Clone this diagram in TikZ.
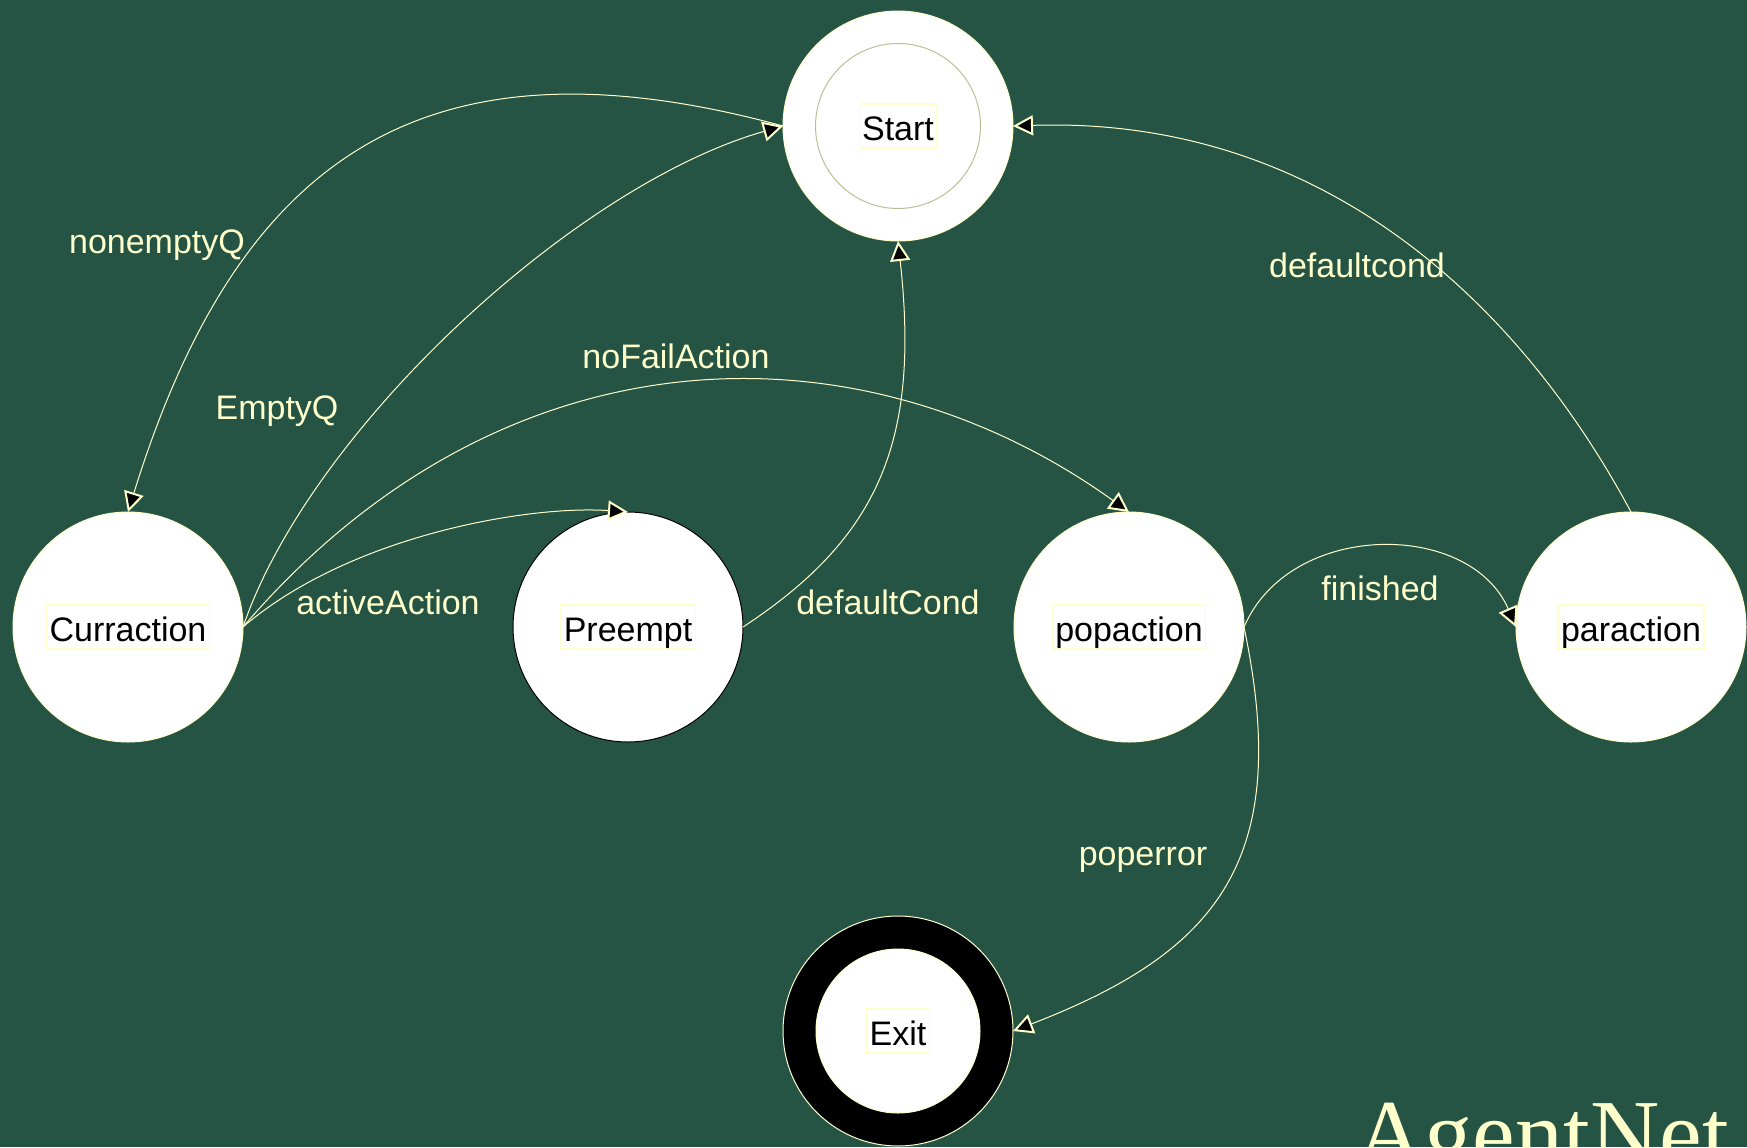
\documentclass[tikz,border=0pt]{standalone}
\usepackage{fontspec}
\setmainfont{Liberation Sans}
\newfontfamily\brandfont{Liberation Serif}
\usetikzlibrary{arrows.meta}

\definecolor{bggreen}{RGB}{38,84,68}
\definecolor{paleyel}{RGB}{255,255,204}
\definecolor{ringgray}{RGB}{190,190,150}

\tikzset{every picture/.style={line width=0.5pt}}
\tikzset{
  state/.style={circle, minimum size=115pt, inner sep=0pt, outer sep=0pt, fill=white, draw=paleyel},
  statetext/.style={draw=paleyel, line width=0.6pt, inner sep=1.5pt, text height=16.5pt, text depth=2.5pt, text=black, font=\fontsize{17}{20}\selectfont},
  trans/.style={draw=paleyel, line width=0.5pt, -{Triangle[length=10pt,width=10pt,fill=black,line width=1pt]}},
  translabel/.style={text=paleyel, inner sep=0pt, text height=12.5pt, text depth=3.5pt, font=\fontsize{17}{20}\selectfont},
}

\begin{document}
\begin{tikzpicture}[x=0.5pt,y=0.5pt,yscale=-1,xscale=1]
	\useasboundingbox (0,0) rectangle (1747,1147);
	\clip (0,0) rectangle (1747,1147);
	\fill [bggreen] (0,0) rectangle (1747,1147);
	
	%Shape: Circle [start]
	\node [state] (start) at (898,126) {};
	\node [circle, minimum size=82.5pt, inner sep=0pt, draw=ringgray] (startin) at (start) {};
	%Shape: Circle [curraction]
	\node [state] (curr) at (128,627) {};
	%Shape: Circle [preempt]
	\node [state, draw=black] (preempt) at (628,627) {};
	%Shape: Circle [popaction]
	\node [state] (pop) at (1129,627) {};
	%Shape: Circle [paraction]
	\node [state] (par) at (1631,627) {};
	%Shape: Circle [exit]
	\node [state, fill=black] (exit) at (898,1031) {};
	\node [circle, minimum size=82pt, inner sep=0pt, fill=white, draw=paleyel] (exitin) at (exit) {};
	
	% Text Node
	\node [statetext] (startlbl) at (start) {Start};
	\node [statetext] (currlbl) at (curr) {Curraction};
	\node [statetext] (preemptlbl) at (preempt) {Preempt};
	\node [statetext] (poplbl) at (pop) {popaction};
	\node [statetext] (parlbl) at (par) {paraction};
	\node [statetext] (exitlbl) at (exit) {Exit};
	
	%Curve Lines [nonemptyQ]
	\draw [trans] (start.west) .. controls (430,30) and (240,150) .. (curr.north);
	%Curve Lines [EmptyQ]
	\draw [trans] (curr.east) .. controls (310,430) and (575,185) .. (start.west);
	%Curve Lines [activeAction]
	\draw [trans] (curr.east) .. controls (350,535) and (530,505) .. (preempt.north);
	%Curve Lines [noFailAction]
	\draw [trans] (curr.east) .. controls (504,322) and (862,320) .. (pop.north);
	%Curve Lines [defaultCond]
	\draw [trans] (preempt.east) .. controls (880,537) and (920,440) .. (start.south);
	%Curve Lines [defaultcond]
	\draw [trans] (par.north) .. controls (1513,292) and (1313,116) .. (start.east);
	%Curve Lines [finished]
	\draw [trans] (pop.east) .. controls (1290,520) and (1470,520) .. (par.west);
	%Curve Lines [poperror]
	\draw [trans] (pop.east) .. controls (1293,860) and (1218,952) .. (exit.east);
	
	% Text Node
	\node [translabel] (lnonempty) at (157,244) {nonemptyQ};
	\node [translabel] (lempty) at (277,410) {EmptyQ};
	\node [translabel] (lnofail) at (676,359) {noFailAction};
	\node [translabel] (lactive) at (388,605) {activeAction};
	\node [translabel] (ldefcond) at (888,605) {defaultCond};
	\node [translabel] (ldefcondp) at (1357,268) {defaultcond};
	\node [translabel] (lfinished) at (1380,591) {finished};
	\node [translabel] (lpoperror) at (1143,856) {poperror};
	
	% Text Node
	\node [anchor=base west, inner sep=0pt, text=paleyel, font=\brandfont\fontsize{48}{52}\selectfont] (brand) at (1355,1166) {AgentNet};
	
\end{tikzpicture}
\end{document}
